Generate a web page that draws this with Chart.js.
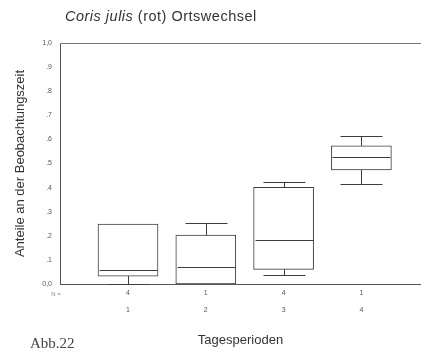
<!DOCTYPE html>
<html>
<head>
<meta charset="utf-8">
<script src="https://cdn.jsdelivr.net/npm/chart.js@4"></script>
<style>
  html, body { margin: 0; padding: 0; background: #fff; }
  #wrap { position: relative; width: 421px; height: 355px; }
  #title {
    position: absolute; left: 65px; top: 8px;
    font: 14.5px "Liberation Sans", Arial, sans-serif; color: #333;
    letter-spacing: 0.5px; white-space: nowrap;
  }
  #abb {
    position: absolute; left: 30px; top: 335px;
    font: 15px "Liberation Serif", "Times New Roman", serif; color: #444;
  }
</style>
</head>
<body>
<div id="wrap">
  <canvas id="chart" width="421" height="355"></canvas>
  <div id="title"><i>Coris julis</i> (rot) Ortswechsel</div>
  <div id="abb">Abb.22</div>
</div>
<script>
// Tagesperioden 1-4, Anteile an der Beobachtungszeit
const periods = ["1", "2", "3", "4"];
const counts = ["4", "1", "4", "1"];
const whiskerLow = [0.0, 0.0, 0.037, 0.414];
const q1 = [0.033, 0.0, 0.061, 0.473];
const median = [0.058, 0.072, 0.184, 0.528];
const q3 = [0.249, 0.203, 0.401, 0.573];
const whiskerHigh = [0.249, 0.252, 0.424, 0.614];
const yTicks = [0, 0.1, 0.2, 0.3, 0.4, 0.5, 0.6, 0.7, 0.8, 0.9, 1.0];

const lineColor = "#3c3c3c";
const boxWidth = 60;
const capWidth = 42;

// whiskers, medians, top frame line, "N =" label
const boxplotExtras = {
  id: "boxplotExtras",
  afterDatasetsDraw(chart) {
    const { ctx, chartArea, scales: { x, y } } = chart;
    ctx.save();
    ctx.strokeStyle = lineColor;
    ctx.lineWidth = 1;
    periods.forEach((p, i) => {
      const cx = Math.round(x.getPixelForValue(i + 1)) + 0.5;
      const hLine = (val, half) => {
        const py = Math.round(y.getPixelForValue(val)) + 0.5;
        ctx.beginPath();
        ctx.moveTo(cx - half, py);
        ctx.lineTo(cx + half, py);
        ctx.stroke();
      };
      const vLine = (a, b) => {
        ctx.beginPath();
        ctx.moveTo(cx, y.getPixelForValue(a));
        ctx.lineTo(cx, y.getPixelForValue(b));
        ctx.stroke();
      };
      if (whiskerHigh[i] > q3[i]) {
        vLine(q3[i], whiskerHigh[i]);
        hLine(whiskerHigh[i], capWidth / 2);
      }
      if (whiskerLow[i] < q1[i]) {
        vLine(q1[i], whiskerLow[i]);
        hLine(whiskerLow[i], capWidth / 2);
      }
      hLine(median[i], boxWidth / 2 - 1);
    });
    // top frame line
    ctx.strokeStyle = "#777";
    ctx.beginPath();
    ctx.moveTo(chartArea.left, chartArea.top + 0.5);
    ctx.lineTo(chartArea.right, chartArea.top + 0.5);
    ctx.stroke();
    // N = label
    ctx.fillStyle = "#888";
    ctx.font = "6px 'Liberation Sans', Arial, sans-serif";
    ctx.textAlign = "center";
    ctx.textBaseline = "middle";
    ctx.fillText("N =", 56, chartArea.bottom + 10);
    ctx.restore();
  }
};

new Chart(document.getElementById("chart"), {
  type: "bar",
  data: {
    datasets: [{
      data: periods.map((p, i) => ({ x: i + 1, y: [q1[i], q3[i]] })),
      backgroundColor: "#fff",
      borderColor: lineColor,
      borderWidth: 1,
      borderSkipped: false,
      barThickness: boxWidth
    }]
  },
  options: {
    responsive: false,
    animation: false,
    layout: { padding: { top: 43, right: 0, bottom: 0, left: 0 } },
    plugins: {
      legend: { display: false },
      tooltip: { enabled: false }
    },
    scales: {
      x: {
        type: "linear",
        offset: false,
        min: 0.126,
        max: 4.766,
        grid: { display: false, drawTicks: false },
        border: { display: true, color: "#555", width: 1 },
        afterBuildTicks: scale => {
          scale.ticks = periods.map((p, i) => ({ value: i + 1 }));
        },
        afterFit: scale => { scale.height = 71; },
        ticks: {
          padding: 1,
          color: "#555",
          font: { size: 7, family: "'Liberation Sans', Arial, sans-serif", lineHeight: 2.4 },
          callback: (v, idx) => [counts[idx], periods[idx]]
        },
        title: {
          display: true,
          text: "Tagesperioden",
          color: "#333",
          font: { size: 13, family: "'Liberation Sans', Arial, sans-serif" },
          padding: { top: 0, bottom: 7 }
        }
      },
      y: {
        min: 0,
        max: 1,
        grid: { display: false, drawTicks: false },
        border: { display: true, color: "#555", width: 1 },
        afterBuildTicks: scale => {
          scale.ticks = yTicks.map(v => ({ value: v }));
        },
        afterFit: scale => { scale.width = 60; },
        ticks: {
          padding: 8,
          color: "#555",
          font: { size: 7, family: "'Liberation Sans', Arial, sans-serif" },
          callback: v => {
            if (v === 0) return "0,0";
            if (v === 1) return "1,0";
            return "." + Math.round(v * 10);
          }
        },
        title: {
          display: true,
          text: "Anteile an der Beobachtungszeit",
          color: "#333",
          font: { size: 13, family: "'Liberation Sans', Arial, sans-serif" },
          padding: { top: 13, bottom: 0 }
        }
      }
    }
  },
  plugins: [boxplotExtras]
});
</script>
</body>
</html>
